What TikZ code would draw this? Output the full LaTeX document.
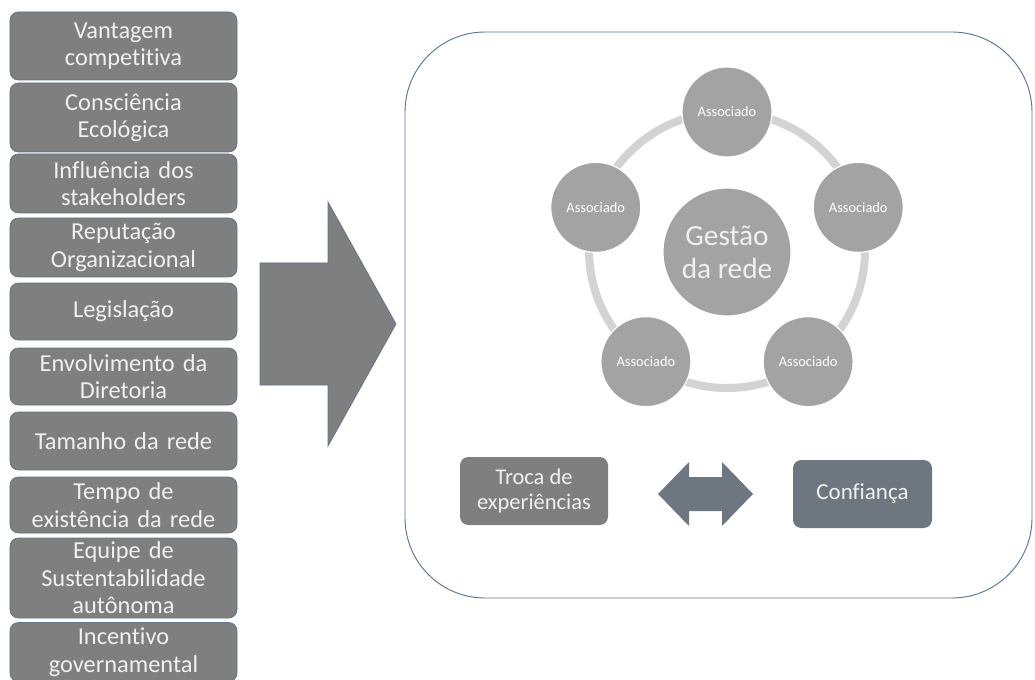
\documentclass[tikz,border=0pt]{standalone}
\usepackage{fontspec}
\setmainfont{Carlito}[Ligatures=CommonOff]
\definecolor{boxgray}{HTML}{7F7F7F}
\definecolor{edgeslate}{HTML}{62718A}
\definecolor{darkslate}{HTML}{6E7680}
\definecolor{circgray}{HTML}{A3A3A3}
\definecolor{ringgray}{HTML}{D3D3D3}
\definecolor{framecol}{HTML}{5A7496}
\definecolor{txtlight}{HTML}{F0F0F0}

\tikzset{
  fbox/.style={fill=boxgray,draw=edgeslate,line width=0.6pt,rounded corners=0.25cm,
    minimum width=6.81cm,text width=6.7cm,inner sep=0pt,align=center,text=txtlight,
    font=\fontsize{20.8}{23.5}\selectfont},
  hub/.style={circle,fill=circgray,draw=white,line width=1pt,minimum size=3.84cm,
    inner sep=0pt,align=center,text=txtlight,font=\fontsize{25}{28}\selectfont},
  assoc/.style={circle,fill=circgray,draw=white,line width=1pt,minimum size=2.7cm,
    inner sep=0pt,text=white,font=\fontsize{12.3}{14}\selectfont},
  ring/.style={draw=ringgray,line width=0.24cm},
  frame/.style={draw=framecol,line width=0.8pt,rounded corners=2.4cm},
  tbox/.style={fill=boxgray,rounded corners=0.25cm,minimum width=4.44cm,minimum height=2.04cm,
    inner sep=0pt,align=center,text=txtlight,font=\fontsize{19.2}{22}\selectfont},
  cbox/.style={fill=darkslate,rounded corners=0.25cm,minimum width=4.17cm,minimum height=2.04cm,
    inner sep=0pt,align=center,text=txtlight,font=\fontsize{19.6}{22}\selectfont},
  bigarrow/.style={fill=boxgray,draw=edgeslate,line width=0.6pt},
  duparrow/.style={fill=darkslate}
}

\begin{document}
\begin{tikzpicture}[x=0.03cm,y=-0.03cm]
\clip (0,0) rectangle (1035,680);

\foreach \c/\h/\t [count=\i] in {46/68/{Vantagem\\competitiva},117.5/69/{Consciência\\Ecológica},
    183.5/59/{Influência dos\\stakeholders},247.5/59/{Reputação\\Organizacional},311.5/57/{Legislação},
    376.5/57/{Envolvimento da\\Diretoria},441/58/{Tamanho da rede},505/56/{Tempo de\\existência da rede},
    578/80/{Equipe de\\Sustentabilidade\\autônoma},652/59/{Incentivo\\governamental}}
  \node[fbox,minimum height=\h*0.03cm] (f\i) at (123.5,\c) {\t};

\draw[bigarrow] (260,263) -- (328,263) -- (328,202) -- (396,324) -- (328,446) -- (328,385) -- (260,385) -- cycle;

\draw[frame] (405,32) rectangle (1032,598);

\coordinate (c) at (727,250);
\draw[ring] (c) circle[radius=4.14cm];
\node[hub] (g) at (727,252) {Gestão\\da rede};
\foreach \a [count=\i] in {90,18,306,234,162}
  \node[assoc] (a\i) at ([shift={(c)}]\a:4.14cm) {Associado};

\node[tbox] (troca) at (534,491) {Troca de\\experiências};
\node[cbox] (conf) at (862.5,494) {Confiança};
\fill[duparrow] (658,494) -- (689,462) -- (689,477) -- (722,477) -- (722,462) -- (753,494)
  -- (722,526) -- (722,511) -- (689,511) -- (689,526) -- cycle;
\end{tikzpicture}
\end{document}
